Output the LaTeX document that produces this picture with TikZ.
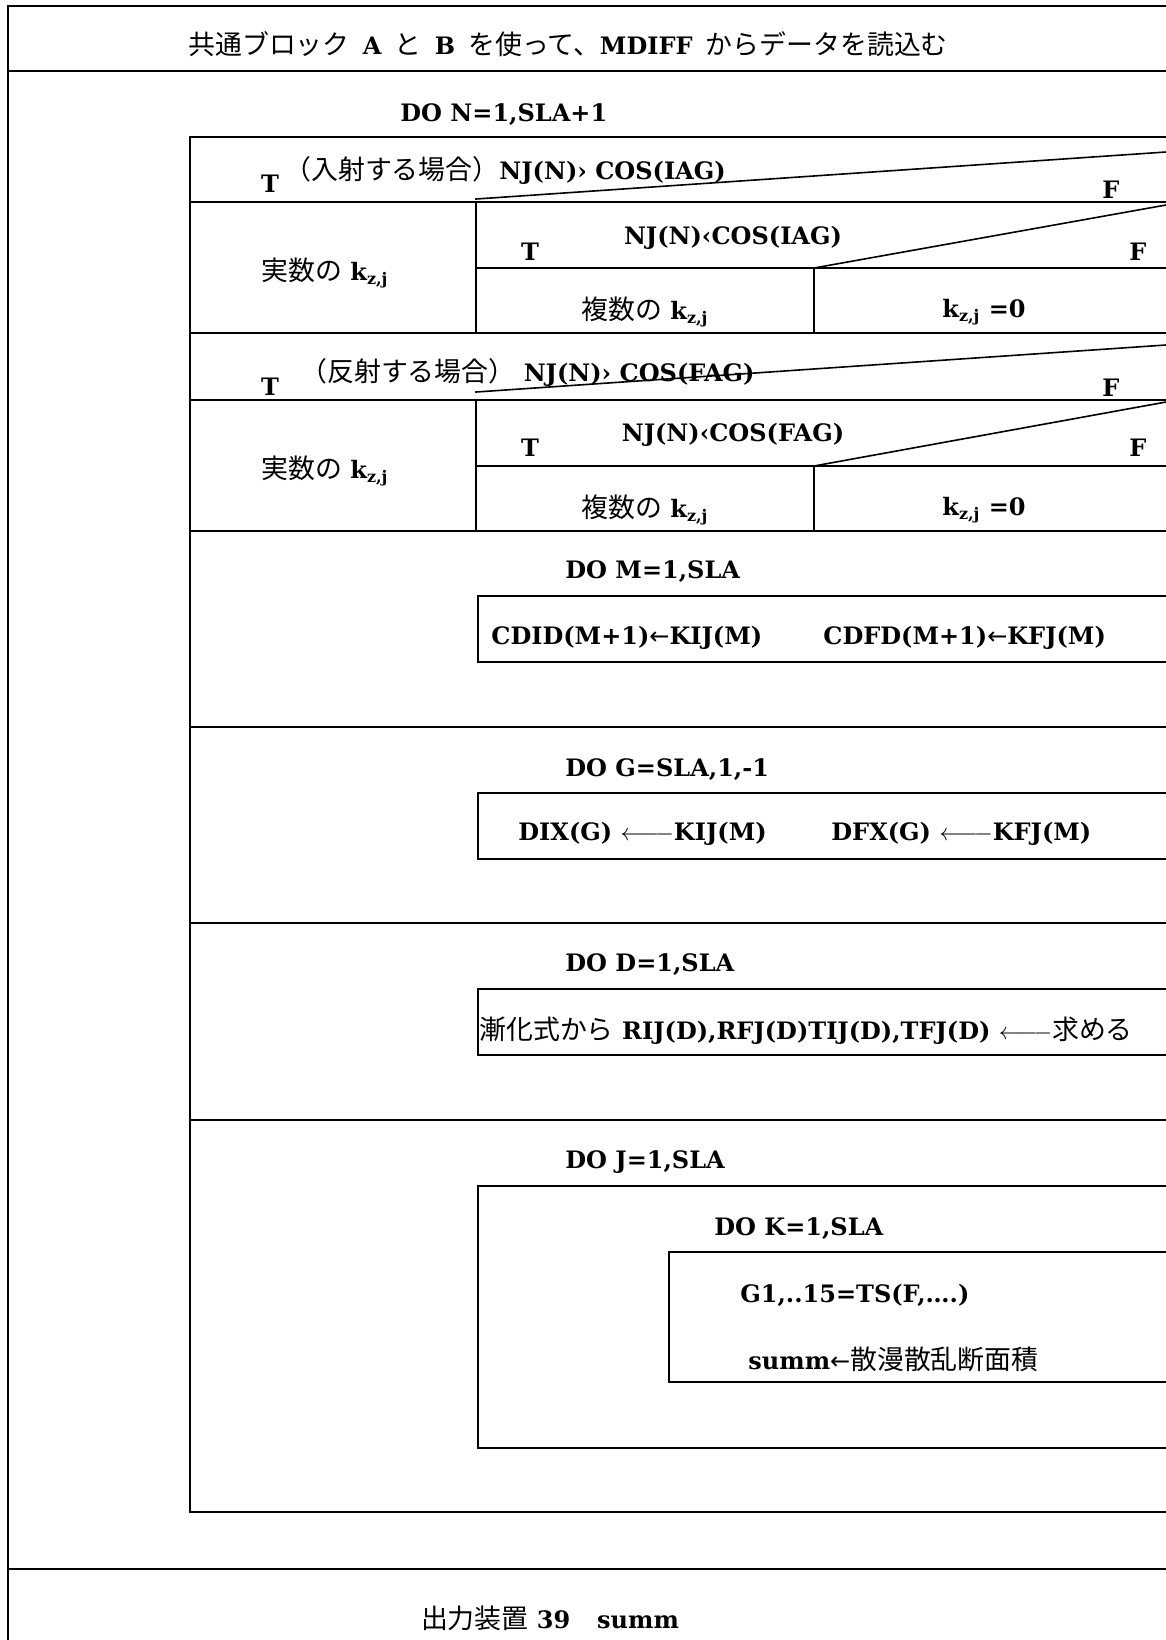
\documentclass[tikz,border=0pt]{standalone}
\usepackage{fontspec}
\setmainfont{DejaVu Serif}
\newfontfamily\cjkfont{Noto Sans CJK JP}[Scale=1.12]
\newfontfamily\symfont{DejaVu Sans}
\newcommand\J[1]{{\cjkfont\mdseries #1}}
\newcommand\LA{{\symfont\mdseries ←}}
\newcommand\LLA{$\leftarrow\joinrel\relbar\joinrel\relbar$}
\newcommand\kzj{k\textsubscript{z,j}}
\newcommand\tsp{\hspace{0.55em}}
\begin{document}
\begin{tikzpicture}[x=0.5pt,y=-0.5pt,
  frame/.style={line width=0.8pt,line cap=rect},
  txt/.style={inner sep=0pt,font=\fontsize{12}{14}\selectfont\bfseries},
  lt/.style={txt,anchor=west}]
\useasboundingbox (0,0) rectangle (1166,1640);
% outer frame
\draw[frame] (1166,6) -- (8,6) -- (8,1640);
\draw[frame] (8,71) -- (1166,71);
\draw[frame] (8,1569) -- (1166,1569);
% inner DO N box
\draw[frame] (1166,137) -- (190,137) -- (190,1512) -- (1166,1512);
\foreach \yy in {202,333,400,531,727,923,1120}
  \draw[frame] (190,\yy) -- (1166,\yy);
% incident branch
\draw[frame] (476,202) -- (476,333);
\draw[frame] (476,268) -- (1166,268);
\draw[frame] (814,268) -- (814,333);
\draw[frame] (476,199) -- (1166,152);
\draw[frame] (814,268) -- (1166,205);
% reflected branch
\draw[frame] (476,400) -- (476,531);
\draw[frame] (476,466) -- (1166,466);
\draw[frame] (814,466) -- (814,531);
\draw[frame] (476,392) -- (1166,345);
\draw[frame] (814,466) -- (1166,402);
% loop boxes
\draw[frame] (1166,596) -- (478,596) -- (478,662) -- (1166,662);
\draw[frame] (1166,793) -- (478,793) -- (478,859) -- (1166,859);
\draw[frame] (1166,989) -- (478,989) -- (478,1055) -- (1166,1055);
\draw[frame] (1166,1186) -- (478,1186) -- (478,1448) -- (1166,1448);
\draw[frame] (1166,1252) -- (669,1252) -- (669,1382) -- (1166,1382);
% texts
\node[lt] (title) at (188,44) {\J{共通ブロック}\tsp A\tsp\J{と}\tsp B\tsp\J{を使って、}MDIFF\tsp\J{からデータを読込む}};
\node[lt] (doN) at (400,115) {DO N=1,SLA+1};
\node[txt] (t1) at (270,184) {T};
\node[lt] (c1) at (284,170) {\J{（入射する場合）}NJ(N)› COS(IAG)};
\node[txt] (f1) at (1111,190) {F};
\node[txt] (r1) at (325,273) {\J{実数の} \kzj};
\node[txt] (t2) at (530,252) {T};
\node[txt] (c2) at (733,238) {NJ(N)‹COS(IAG)};
\node[txt] (f2) at (1138,252) {F};
\node[txt] (x1) at (645,312) {\J{複数の} \kzj};
\node[txt] (z1) at (984,312) {\kzj\ =0};
\node[txt] (t3) at (270,387) {T};
\node[lt] (c3) at (300,372) {\J{（反射する場合）} NJ(N)› COS(FAG)};
\node[txt] (f3) at (1111,388) {F};
\node[txt] (r2) at (325,471) {\J{実数の} \kzj};
\node[txt] (t4) at (530,448) {T};
\node[txt] (c4) at (733,435) {NJ(N)‹COS(FAG)};
\node[txt] (f4) at (1138,448) {F};
\node[txt] (x2) at (645,510) {\J{複数の} \kzj};
\node[txt] (z2) at (984,510) {\kzj\ =0};
\node[lt] (doM) at (565,572) {DO M=1,SLA};
\node[lt] (m1) at (491,638) {CDID(M+1)\LA KIJ(M)};
\node[lt] (m2) at (823,638) {CDFD(M+1)\LA KFJ(M)};
\node[lt] (doG) at (565,770) {DO G=SLA,1,-1};
\node[lt] (g1) at (518,834) {DIX(G)\ \LLA KIJ(M)};
\node[lt] (g2) at (831,834) {DFX(G)\ \LLA KFJ(M)};
\node[lt] (doD) at (565,965) {DO D=1,SLA};
\node[lt] (d1) at (479,1031) {\J{漸化式から} RIJ(D),RFJ(D)TIJ(D),TFJ(D)\ \LLA\J{求める}};
\node[lt] (doJ) at (565,1162) {DO J=1,SLA};
\node[lt] (doK) at (714,1229) {DO K=1,SLA};
\node[lt] (k1) at (740,1295) {G1,..15=TS(F,….)};
\node[lt] (k2) at (748,1359) {summ\LA\J{散漫散乱断面積}};
\node[txt] (out) at (550,1618) {\J{出力装置} 39\J{　}summ};
\end{tikzpicture}
\end{document}
